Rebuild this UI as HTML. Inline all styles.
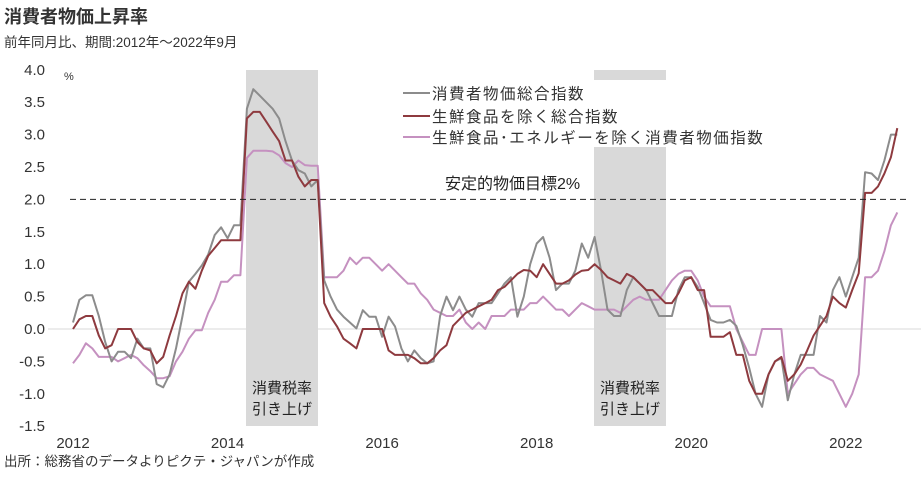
<!DOCTYPE html>
<html><head><meta charset="utf-8">
<style>
html,body{margin:0;padding:0;background:#fff;}
body{width:921px;height:474px;overflow:hidden;font-family:"Liberation Sans","Noto Sans CJK JP",sans-serif;}
svg text{font-family:"Liberation Sans","Noto Sans CJK JP",sans-serif;}
</style></head>
<body>
<svg id="chart" width="921" height="474" viewBox="0 0 921 474" xmlns="http://www.w3.org/2000/svg">
  <text x="4" y="23" font-size="18" font-weight="bold" fill="#333">消費者物価上昇率</text>
  <text x="4" y="47" font-size="13.5" fill="#333">前年同月比、期間:2012年～2022年9月</text>
  <g id="shades"></g>
  <g id="grid"></g>
  <g id="series"></g>
  <g id="labels"></g>
  <text x="4" y="466" font-size="13.5" fill="#333">出所：総務省のデータよりピクテ・ジャパンが作成</text>
</svg>
<script>
const months = 129; // Jan 2012 .. Sep 2022
const yTicks = [4.0,3.5,3.0,2.5,2.0,1.5,1.0,0.5,0.0,-0.5,-1.0,-1.5];
const xTickYears = [2012,2014,2016,2018,2020,2022];
const targetValue = 2.0;
const headline = [0.1,0.45,0.52,0.52,0.2,-0.2,-0.5,-0.35,-0.35,-0.45,
-0.15,-0.3,-0.3,-0.85,-0.9,-0.7,-0.3,0.2,0.73,0.85,
0.98,1.15,1.45,1.57,1.4,1.6,1.6,3.4,3.7,3.6,
3.5,3.4,3.25,2.9,2.6,2.45,2.4,2.2,2.3,0.75,
0.5,0.3,0.19,0.1,0.01,0.29,0.19,0.19,-0.12,0.19,
0.04,-0.3,-0.5,-0.33,-0.45,-0.53,-0.5,0.2,0.5,0.29,
0.5,0.3,0.19,0.4,0.4,0.4,0.55,0.7,0.8,0.19,
0.5,1.0,1.32,1.42,1.1,0.6,0.7,0.7,0.9,1.32,
1.1,1.42,0.9,0.3,0.2,0.2,0.6,0.8,0.7,0.6,
0.4,0.2,0.2,0.2,0.6,0.8,0.8,0.65,0.4,0.14,
0.1,0.1,0.14,0.05,-0.25,-0.6,-1.0,-1.2,-0.7,-0.5,
-0.45,-1.1,-0.7,-0.4,-0.4,-0.4,0.2,0.1,0.6,0.8,
0.5,0.8,1.1,2.42,2.4,2.3,2.6,3.0,3.0];
const core = [0.0,0.15,0.2,0.2,-0.1,-0.3,-0.25,0.0,0.0,0.0,
-0.2,-0.3,-0.33,-0.53,-0.43,-0.1,0.2,0.55,0.73,0.62,
0.9,1.13,1.25,1.37,1.37,1.37,1.37,3.25,3.35,3.35,
3.2,3.05,2.9,2.6,2.6,2.35,2.2,2.3,2.3,0.4,
0.19,0.04,-0.15,-0.22,-0.3,0.0,0.0,0.0,0.0,-0.33,
-0.4,-0.4,-0.4,-0.45,-0.53,-0.53,-0.45,-0.33,-0.25,0.05,
0.15,0.25,0.3,0.35,0.4,0.45,0.6,0.65,0.75,0.85,
0.91,0.9,0.8,1.0,0.85,0.7,0.7,0.75,0.84,0.9,
0.91,1.0,0.91,0.8,0.75,0.7,0.85,0.8,0.7,0.6,
0.6,0.5,0.4,0.4,0.55,0.75,0.8,0.6,0.6,-0.12,
-0.12,-0.12,-0.05,-0.4,-0.4,-0.8,-1.0,-1.0,-0.7,-0.5,
-0.43,-0.8,-0.7,-0.55,-0.33,-0.1,0.05,0.2,0.5,0.4,
0.33,0.6,0.86,2.1,2.1,2.2,2.4,2.65,3.1];
const coreCore = [-0.53,-0.4,-0.22,-0.3,-0.43,-0.43,-0.43,-0.5,-0.45,-0.4,
-0.45,-0.56,-0.65,-0.76,-0.76,-0.73,-0.5,-0.35,-0.15,-0.02,
-0.02,0.25,0.45,0.73,0.73,0.83,0.83,2.64,2.75,2.75,
2.75,2.74,2.68,2.56,2.5,2.6,2.53,2.52,2.52,0.8,
0.8,0.8,0.9,1.1,1.0,1.1,1.1,1.0,0.9,1.0,
0.9,0.8,0.7,0.7,0.55,0.45,0.3,0.25,0.2,0.2,
0.3,0.1,0.0,0.1,0.0,0.2,0.2,0.2,0.3,0.3,
0.3,0.4,0.4,0.5,0.4,0.3,0.3,0.2,0.3,0.4,
0.35,0.3,0.3,0.3,0.3,0.25,0.35,0.45,0.5,0.45,
0.45,0.45,0.6,0.75,0.85,0.9,0.9,0.75,0.5,0.35,
0.35,0.35,0.35,0.0,-0.2,-0.4,-0.4,0.0,0.0,0.0,
0.0,-1.0,-0.85,-0.7,-0.6,-0.6,-0.7,-0.75,-0.8,-1.0,
-1.2,-1.0,-0.7,0.8,0.8,0.9,1.2,1.6,1.8];
const seriesNames = ["消費者物価総合指数","生鮮食品を除く総合指数","生鮮食品･エネルギーを除く消費者物価指数"];

const NS="http://www.w3.org/2000/svg";
const X0=73, MW=6.44;
function xs(i){return X0+i*MW;}
function ys(v){return 329-64.8*v;}
function mk(tag,attrs,parent){const e=document.createElementNS(NS,tag);for(const k in attrs)e.setAttribute(k,attrs[k]);parent.appendChild(e);return e;}
const shades=document.getElementById('shades'),grid=document.getElementById('grid'),ser=document.getElementById('series'),lab=document.getElementById('labels');

// shaded consumption-tax periods
let s1=mk('rect',{x:246,y:70,width:72,height:356,fill:'#d9d9d9'},shades);


let s2=mk('rect',{x:594,y:70,width:72,height:356,fill:'#d9d9d9'},shades);



// zero line
let z=mk('line',{x1:48,x2:921,y1:ys(0),y2:ys(0),stroke:'#d9d9d9','stroke-width':1},grid);



// y ticks
yTicks.forEach(v=>{
  const t=mk('text',{x:45,y:ys(v)+5,'font-size':15,fill:'#333','text-anchor':'end'},lab);
  t.textContent=v.toFixed(1);
  
  
});
let pc=mk('text',{x:64,y:80,'font-size':11,fill:'#333'},lab);pc.textContent='%';


// x ticks
xTickYears.forEach(yr=>{
  const t=mk('text',{x:xs((yr-2012)*12),y:448,'font-size':15,fill:'#333','text-anchor':'middle'},lab);
  t.textContent=yr;
  
  
});

// series lines
function drawLine(data,color,name,w){
  const d=data.map((v,i)=>(i?'L':'M')+xs(i).toFixed(1)+' '+ys(v).toFixed(1)).join(' ');
  const p=mk('path',{d:d,fill:'none',stroke:color,'stroke-width':w,'stroke-linejoin':'round'},ser);
  
  
}
drawLine(coreCore,'#c591c0','line-core-core-cpi',2);
drawLine(headline,'#8c8c8c','line-headline-cpi',2);
drawLine(core,'#8e3a3f','line-core-cpi',2);

// target line
let tl=mk('line',{x1:70,x2:906,y1:ys(targetValue),y2:ys(targetValue),stroke:'#222','stroke-width':1,'stroke-dasharray':'6,4'},ser);


let tt=mk('text',{x:445,y:189,'font-size':16,fill:'#222'},lab);tt.textContent='安定的物価目標2%';



// band labels
[[282,'a'],[630,'b']].forEach(([cx,k])=>{
  const t1=mk('text',{x:cx,y:393,'font-size':15,fill:'#222','text-anchor':'middle'},lab);t1.textContent='消費税率';
  
  
  const t2=mk('text',{x:cx,y:414,'font-size':15,fill:'#222','text-anchor':'middle'},lab);t2.textContent='引き上げ';
  
  
});

// legend
const lg=mk('g',{},lab);


mk('rect',{x:400,y:80,width:400,height:67,fill:'#fff'},lg);
const lcols=['#8c8c8c','#8e3a3f','#c591c0'];
const lys=[93,116,137];
seriesNames.forEach((n,i)=>{
  const ln=mk('line',{x1:403,x2:430,y1:lys[i],y2:lys[i],stroke:lcols[i],'stroke-width':2},lg);
  
  
  const t=mk('text',{x:432,y:lys[i]+6,'font-size':15.5,fill:'#333','letter-spacing':'1.5'},lg);
  t.textContent=n;
  
  
});
</script>
</body></html>
